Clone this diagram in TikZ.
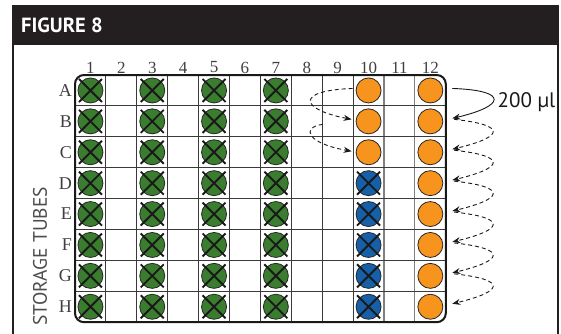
\documentclass[tikz,border=0pt]{standalone}
\usepackage{fontspec}
\setmainfont{Liberation Serif}
\newfontfamily\ptsans{PT Sans}
\usetikzlibrary{arrows.meta,calc}
\definecolor{barcol}{HTML}{231F20}
\definecolor{wgreen}{HTML}{3A7D2E}
\definecolor{wblue}{HTML}{1660AA}
\definecolor{worange}{HTML}{F7941D}
\definecolor{gridcol}{HTML}{3A3A3A}
\definecolor{labgray}{HTML}{4D4D4D}
\begin{document}
\begin{tikzpicture}[x=1pt,y=-1pt,
  well/.style={circle, draw=black!85, line width=0.8pt, minimum size=25pt, inner sep=0pt},
  xline/.style={line width=1.9pt, black!90},
  gridline/.style={line width=1.1pt, gridcol},
  gridlight/.style={line width=1.1pt, black!50},
  collab/.style={font=\fontsize{17}{17}\selectfont, text=black!75, inner sep=0pt},
  rowlab/.style={font=\fontsize{18}{18}\selectfont, text=black!75, inner sep=0pt, anchor=east},
  flowsolid/.style={line width=0.9pt, black!90, -{Stealth[length=8pt,width=6pt]}},
  flowdash/.style={line width=0.9pt, black!90, dash pattern=on 4pt off 3pt, -{Stealth[length=8pt,width=6pt]}}
]
\useasboundingbox (0,0) rectangle (561,333);
\fill[white] (0,0) rectangle (561,333);
% header
\fill[barcol] (12,5) rectangle (559,45);
\draw[barcol, line width=2pt] (13,44) -- (13,340);
\draw[barcol, line width=2pt] (558,44) -- (558,340);
\node[anchor=west, text=white, font=\ptsans\bfseries\fontsize{20.5}{20.5}\selectfont, inner sep=0pt] (title) at (21,25.5) {FIGURE 8};
% grid
\foreach \c in {1,...,9}
  \draw[gridline] ({75+\c*30.9},75) -- ({75+\c*30.9},322.2);
\foreach \c in {10,11}
  \draw[gridlight] ({75+\c*30.9},75) -- ({75+\c*30.9},322.2);
\foreach \r in {1,...,7}
  \draw[gridline] (75,{75+\r*30.9}) -- (445.8,{75+\r*30.9});
\draw[line width=2pt, black!90, rounded corners=9pt] (75,75) rectangle (445.8,322.2);
% column labels
\foreach \c in {1,...,12}
  \node[collab] (col\c) at ({75+(\c-0.5)*30.9},67.5) {\c};
% row labels and wells
\foreach \r [count=\i] in {A,B,C,D,E,F,G,H} {
  \node[rowlab] (row\r) at (72,{75+(\i-0.5)*30.9}) {\r};
  \foreach \c in {1,3,5,7} {
    \node[well, fill=wgreen] (w-\r-\c) at ({75+(\c-0.5)*30.9},{75+(\i-0.5)*30.9}) {};
    \draw[xline] (w-\r-\c.center) ++(-11.5,-11.5) -- ++(23,23) ++(0,-23) -- ++(-23,23);
  }
  \node[well, fill=worange] (w-\r-12) at ({75+11.5*30.9},{75+(\i-0.5)*30.9}) {};
}
\foreach \r [count=\i] in {A,B,C}
  \node[well, fill=worange] (w-\r-10) at ({75+9.5*30.9},{75+(\i-0.5)*30.9}) {};
\foreach \r [count=\i from 4] in {D,E,F,G,H} {
  \node[well, fill=wblue] (w-\r-10) at ({75+9.5*30.9},{75+(\i-0.5)*30.9}) {};
  \draw[xline] (w-\r-10.center) ++(-11.5,-11.5) -- ++(23,23) ++(0,-23) -- ++(-23,23);
}
% side label
\node[rotate=90, font=\ptsans\fontsize{19.5}{19.5}\selectfont, text=labgray, inner sep=0pt] (storage) at (40,256.5) {STORAGE TUBES};
\node[font=\ptsans\fontsize{21}{21}\selectfont, text=black!90, inner sep=0pt] (vol) at (526.5,102) {200 µl};
% transfer arrows, right side
\draw[flowsolid] ($(w-A-12.east)+(9,-2)$) .. controls +(58,2) and +(52,-12) .. ($(w-B-12.east)+(9,-3)$);
\foreach \a/\b in {B/C,C/D,D/E,E/F,F/G,G/H}
  \draw[flowdash] ($(w-\a-12.east)+(11,-2)$) .. controls +(55,6) and +(50,-12) .. ($(w-\b-12.east)+(9,-3)$);
% transfer arrows, left side
\draw[flowdash] ($(w-A-10.west)+(-3,-2)$) .. controls +(-58,2) and +(-52,-10) .. ($(w-B-10.west)+(-4,-2)$);
\draw[flowdash] ($(w-B-10.west)+(-33,3)$) .. controls +(-22,3) and +(-45,-8) .. ($(w-C-10.west)+(-4,-1)$);
\end{tikzpicture}
\end{document}
